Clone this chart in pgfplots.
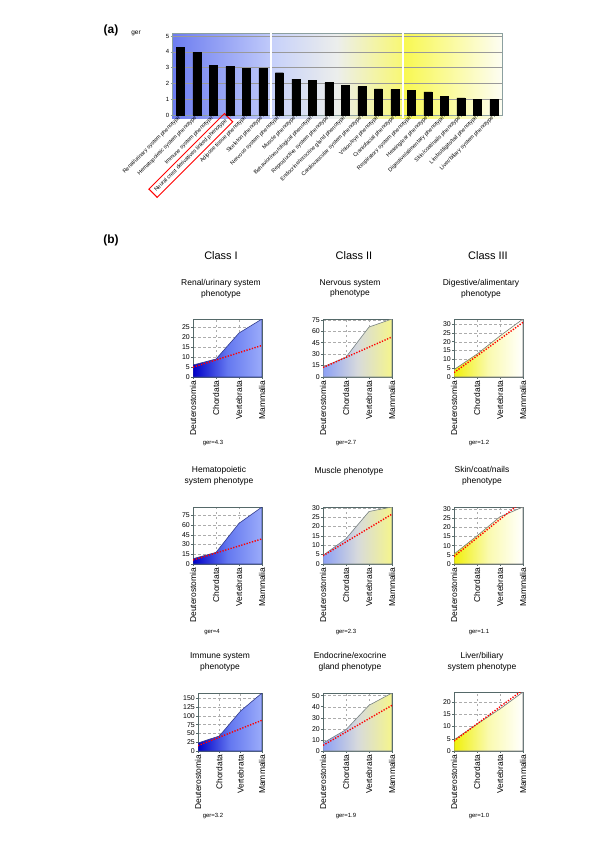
\documentclass[border=0pt]{standalone}
\usepackage{fontspec}
\setmainfont{Liberation Sans}
\usepackage{pgfplots}
\pgfplotsset{compat=1.18}
\setlength{\fboxrule}{1bp}
\setlength{\fboxsep}{2.8bp}

\definecolor{framea}{RGB}{140,160,160}
\definecolor{framec}{RGB}{85,105,105}
\definecolor{aL}{RGB}{108,124,240}
\definecolor{aLR}{RGB}{192,202,250}
\definecolor{bL}{RGB}{198,208,250}
\definecolor{bM}{RGB}{236,238,236}
\definecolor{bR}{RGB}{248,248,115}
\definecolor{cL}{RGB}{248,248,80}
\definecolor{cR}{RGB}{253,253,243}
\definecolor{c1l}{RGB}{0,0,200}
\definecolor{c1m}{RGB}{100,120,240}
\definecolor{c1r}{RGB}{155,172,250}
\definecolor{c1e}{RGB}{50,60,140}
\definecolor{c2l}{RGB}{140,160,245}
\definecolor{c2m}{RGB}{215,218,220}
\definecolor{c2r}{RGB}{245,245,140}
\definecolor{c2e}{RGB}{120,130,130}
\definecolor{c3l}{RGB}{240,240,10}
\definecolor{c3m}{RGB}{250,250,175}
\definecolor{c3e}{RGB}{120,120,120}

\pgfplotsset{
  every axis/.append style={/pgf/number format/assume math mode=true},
  sp/.style={
    scale only axis, width=69bp, height=58bp, anchor=south west,
    xmin=0, xmax=3, ymin=0,
    xtick={0,1,2,3}, xticklabels={Deuterostomia,Chordata,Vertebrata,Mammalia},
    xticklabel style={rotate=90, anchor=east, font=\fontsize{8.5}{9}\selectfont, inner sep=1.5bp},
    yticklabel style={font=\fontsize{7}{8}\selectfont, inner sep=1bp},
    tick pos=left, tick align=outside, major tick length=2bp,
    tick style={framec, line width=0.5bp},
    axis line style={framec, line width=0.8bp},
    grid=major, major grid style={dash pattern=on 2.5bp off 2.5bp, gray!65, line width=0.4bp},
  },
  redline/.style={red, line width=1.4bp, dash pattern=on 1.3bp off 1.5bp},
  c1area/.style={draw=c1e, line width=0.6bp, left color=c1l, right color=c1r, middle color=c1m},
  c2area/.style={draw=c2e, line width=0.6bp, left color=c2l, right color=c2r, middle color=c2m},
  c3area/.style={draw=c3e, line width=0.6bp, left color=c3l, right color=white, middle color=c3m},
  pa/.style={at={(172bp,-115bp)}, anchor=south west, scale only axis,
    width=330bp, height=82bp, xmin=-0.5, xmax=19.5, ymin=0, ymax=5.2},
}

\begin{document}
\begin{tikzpicture}
\path[use as bounding box] (0,0) rectangle (600bp,-842bp);

% ---------- panel (a) ----------
\node[font=\bfseries\fontsize{12}{14}\selectfont] at (111bp,-30bp) {(a)};
\node[font=\fontsize{6.5}{7}\selectfont] at (136bp,-33bp) {ger};

\begin{axis}[pa, hide axis, clip=false]
\fill[left color=aL, right color=aLR] (axis cs:-0.5,-0.2) rectangle (axis cs:5.5,5.2);
\fill[left color=bL, right color=bR, middle color=bM] (axis cs:5.5,-0.2) rectangle (axis cs:13.5,5.2);
\fill[left color=cL, right color=cR] (axis cs:13.5,-0.2) rectangle (axis cs:19.5,5.2);
\end{axis}

\begin{axis}[pa,
  ytick={0,1,2,3,4,5}, xtick={0,...,19},
  xticklabels={Renal/urinary system phenotype, Hematopoietic system phenotype, Immune system phenotype,
    {\textcolor{red}{\fbox{\color{black}Neural crest derivatives linked phenotype}}},
    Adipose tissue phenotype, Skeleton phenotype, Nervous system phenotype, Muscle phenotype,
    Behavior/neurological phenotype, Reproductive system phenotype, Endocrine/exocrine gland phenotype,
    Cardiovascular system phenotype, Vision/eye phenotype, Craniofacial phenotype,
    Respiratory system phenotype, Hearing/ear phenotype, Digestive/alimentary phenotype,
    Skin/coat/nails phenotype, Limbs/digits/tail phenotype, Liver/biliary system phenotype},
  xticklabel style={rotate=45, anchor=east, font=\fontsize{5.5}{6}\selectfont, inner sep=1bp},
  yticklabel style={font=\fontsize{6}{7}\selectfont, inner sep=1bp},
  tick pos=left, tick align=outside, major tick length=1.5bp,
  tick style={framea, line width=0.5bp},
  ymajorgrids, major grid style={gray!80, line width=0.6bp},
  axis line style={draw=framea, line width=1bp},
  clip=false]
\draw[white, line width=1.6bp] (axis cs:5.5,-0.2) -- (axis cs:5.5,5.2);
\draw[white, line width=1.6bp] (axis cs:13.5,-0.2) -- (axis cs:13.5,5.2);
\addplot[ybar, bar width=8bp, fill=black, draw=black] coordinates {
 (0,4.3) (1,3.97) (2,3.14) (3,3.09) (4,2.95) (5,2.95) (6,2.68) (7,2.27) (8,2.19) (9,2.05)
 (10,1.9) (11,1.8) (12,1.66) (13,1.63) (14,1.56) (15,1.47) (16,1.2) (17,1.09) (18,0.98) (19,0.98)};
\end{axis}

% ---------- panel (b) ----------
\node[font=\bfseries\fontsize{12}{14}\selectfont] at (111bp,-240bp) {(b)};
\begin{scope}[font=\fontsize{11}{13}\selectfont]
\node at (221bp,-256bp) {Class I};
\node at (354bp,-256bp) {Class II};
\node at (488bp,-256bp) {Class III};
\end{scope}

\begin{scope}[font=\fontsize{8.5}{10.8}\selectfont, align=center]
\node at (221bp,-288.5bp) {Renal/urinary system\\phenotype};
\node at (350bp,-288.5bp) {Nervous system\\phenotype};
\node at (481bp,-288.5bp) {Digestive/alimentary\\phenotype};
\node at (219bp,-476bp) {Hematopoietic\\system phenotype};
\node at (349bp,-471bp) {Muscle phenotype};
\node at (482bp,-476bp) {Skin/coat/nails\\phenotype};
\node at (220bp,-662bp) {Immune system\\phenotype};
\node at (350bp,-662bp) {Endocrine/exocrine\\gland phenotype};
\node at (482bp,-662bp) {Liver/biliary\\system phenotype};
\end{scope}

\begin{scope}[font=\fontsize{6}{7}\selectfont]
\node at (213bp,-443bp) {ger=4.3};
\node at (346bp,-443bp) {ger=2.7};
\node at (479bp,-443bp) {ger=1.2};
\node at (212bp,-632bp) {ger=4};
\node at (346bp,-632bp) {ger=2.3};
\node at (479bp,-632bp) {ger=1.1};
\node at (213bp,-816bp) {ger=3.2};
\node at (346bp,-816bp) {ger=1.9};
\node at (479bp,-816bp) {ger=1.0};
\end{scope}

% Row 1
\begin{axis}[sp, at={(193bp,-377bp)}, ymax=29, ytick={0,5,...,25}]
\addplot[c1area] coordinates {(0,6) (1,9) (2,22) (3,29)} \closedcycle;
\addplot[redline] coordinates {(0,4.9) (3,15.8)};
\end{axis}
\begin{axis}[sp, at={(323bp,-377bp)}, ymax=76, ytick={0,15,...,75}]
\addplot[c2area] coordinates {(0,13.2) (1,26) (2,65.5) (3,76)} \closedcycle;
\addplot[redline] coordinates {(0,12.4) (3,52.5)};
\end{axis}
\begin{axis}[sp, at={(454bp,-377bp)}, ymax=32.9, ytick={0,5,...,30}]
\addplot[c3area] coordinates {(0,4.2) (1,13) (2,23.3) (3,32.9)} \closedcycle;
\addplot[redline] coordinates {(0,2.5) (3,31)};
\end{axis}

% Row 2
\begin{axis}[sp, at={(193bp,-564bp)}, height=57bp, ymax=88, ytick={0,15,...,75}]
\addplot[c1area] coordinates {(0,8.2) (1,17.9) (2,62.8) (3,88)} \closedcycle;
\addplot[redline] coordinates {(0,6.1) (3,38.8)};
\end{axis}
\begin{axis}[sp, at={(323bp,-564bp)}, height=57bp, ymax=30.4, ytick={0,5,...,30}]
\addplot[c2area] coordinates {(0,4.6) (1,13.5) (2,28) (3,30.4)} \closedcycle;
\addplot[redline] coordinates {(0,4.4) (3,26.6)};
\end{axis}
\begin{axis}[sp, at={(454bp,-564bp)}, height=57bp, ymax=31, ytick={0,5,...,30}]
\addplot[c3area] coordinates {(0,5.4) (1,15.3) (2,25.7) (3,31)} \closedcycle;
\addplot[redline] coordinates {(0,4.1) (3,34.4)};
\end{axis}

% Row 3
\begin{axis}[sp, at={(198bp,-751bp)}, width=64bp, ymax=165, ytick={0,25,...,150}]
\addplot[c1area] coordinates {(0,22.8) (1,42.7) (2,114) (3,165)} \closedcycle;
\addplot[redline] coordinates {(0,15.2) (3,87.4)};
\end{axis}
\begin{axis}[sp, at={(323bp,-751bp)}, ymax=52.4, ytick={0,10,...,50}]
\addplot[c2area] coordinates {(0,7.2) (1,19.3) (2,41.3) (3,52.4)} \closedcycle;
\addplot[redline] coordinates {(0,5.1) (3,41.3)};
\end{axis}
\begin{axis}[sp, at={(454bp,-751bp)}, height=59bp, ymax=24.1, ytick={0,5,...,20}]
\addplot[c3area] coordinates {(0,4.55) (1,11) (2,17.2) (3,24.1)} \closedcycle;
\addplot[redline] coordinates {(0,4.1) (3,25)};
\end{axis}

\end{tikzpicture}
\end{document}
